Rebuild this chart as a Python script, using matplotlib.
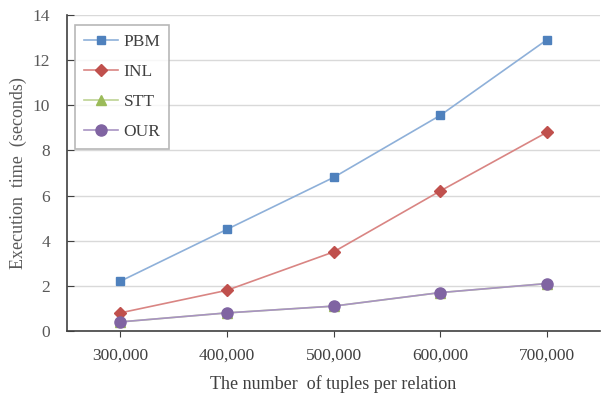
import matplotlib.pyplot as plt

plt.rcParams['font.family'] = ['Liberation Serif', 'DejaVu Serif']

categories = ["300,000", "400,000", "500,000", "600,000", "700,000"]
pbm = [2.2, 4.5, 6.8, 9.55, 12.9]
inl = [0.8, 1.8, 3.5, 6.2, 8.8]
stt = [0.4, 0.8, 1.1, 1.7, 2.1]
our = [0.4, 0.8, 1.1, 1.7, 2.1]

series = [
    ("PBM", pbm, "#4F81BD", "#8EB0D9", "s", 6),
    ("INL", inl, "#C0504D", "#D98583", "D", 6),
    ("STT", stt, "#9BBB59", "#BDD394", "^", 7),
    ("OUR", our, "#8064A2", "#A893C2", "o", 8),
]

fig = plt.figure(figsize=(6.02, 3.94), dpi=100)
ax = fig.add_axes([0.111, 0.160, 0.886, 0.802])

x = list(range(len(categories)))
for name, vals, mc, lc, mk, ms in series:
    ax.plot(x, vals, color=lc, linewidth=1.2, marker=mk, markersize=ms,
            markerfacecolor=mc, markeredgecolor=mc, label=name)

ax.set_xlim(-0.5, len(categories) - 0.5)
ax.set_ylim(0, 14)
ax.set_yticks(range(0, 15, 2))
ax.set_xticks(x)
ax.set_xticklabels(categories)

ax.grid(axis='y', color='#D9D9D9', linewidth=1)
ax.set_axisbelow(True)
for s in ['top', 'right']:
    ax.spines[s].set_visible(False)
for s in ['left', 'bottom']:
    ax.spines[s].set_color('#404040')
    ax.spines[s].set_linewidth(1.2)

ax.tick_params(axis='y', direction='in', length=5, colors='#404040',
               labelcolor='#595959', labelsize=12.5, pad=12)
ax.tick_params(axis='x', direction='out', length=4, colors='#404040',
               labelcolor='#404040', labelsize=12.5, pad=8)

ax.set_xlabel("The number  of tuples per relation", fontsize=13, color='#404040', labelpad=8)
ax.set_ylabel("Execution  time  (seconds)", fontsize=13, color='#595959', labelpad=4)

leg = ax.legend(loc='upper left', bbox_to_anchor=(0.015, 0.968), borderaxespad=0,
                fontsize=12.5, frameon=True, fancybox=False, edgecolor='#A6A6A6',
                handlelength=2.0, handletextpad=0.3, labelspacing=0.8,
                borderpad=0.5, labelcolor='#404040')
leg.get_frame().set_linewidth(1.2)

fig.savefig("out.png", dpi=100)
